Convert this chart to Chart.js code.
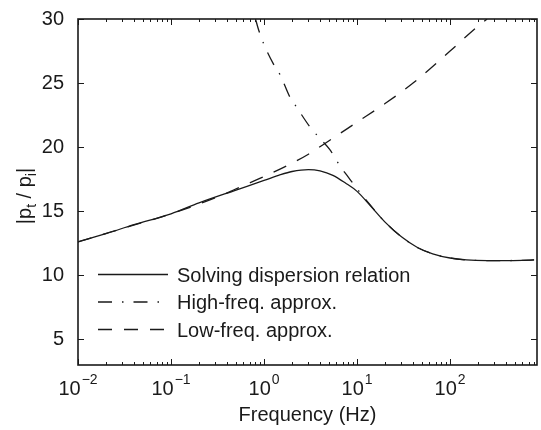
<!DOCTYPE html>
<html>
<head>
<meta charset="utf-8">
<script src="https://cdn.jsdelivr.net/npm/chart.js@4.4.0/dist/chart.umd.min.js"></script>
<style>
  html, body { margin: 0; padding: 0; background: #fff; }
  #wrap { width: 541px; height: 430px; }
</style>
</head>
<body>
<div id="wrap"><canvas id="chart" width="541" height="430"></canvas></div>
<script>
// values (frequency in Hz, ratio |pt/pi|)
const solidFreq = [0.01, 0.02, 0.04, 0.1, 0.2, 0.5, 1, 1.5, 2, 3, 4, 5.5, 7.5, 10, 14, 20, 30, 45, 65, 100, 150, 250, 400, 600, 800];
const solidVals = [12.6, 13.25, 13.95, 14.8, 15.65, 16.65, 17.4, 17.85, 18.1, 18.25, 18.15, 17.8, 17.2, 16.55, 15.4, 14.15, 13.0, 12.15, 11.68, 11.35, 11.2, 11.15, 11.15, 11.17, 11.2];

const highFreq = [0.81, 0.87, 1.0, 1.26, 1.5, 1.9, 2.25, 3.1, 3.85, 5.1, 6.6, 7.8, 10, 14, 20, 30, 45, 65, 100, 150, 250, 400, 600, 800];
const highVals = [30, 29.2, 28.0, 26.5, 25.6, 23.9, 23.1, 21.6, 20.8, 19.8, 18.5, 17.8, 16.75, 15.45, 14.15, 13.0, 12.15, 11.68, 11.35, 11.2, 11.15, 11.15, 11.17, 11.2];

const lowFreq = [0.01, 0.03, 0.1, 0.3, 0.6, 1, 2, 3, 5, 10, 20, 40, 100, 200, 250];
const lowVals = [12.6, 13.65, 14.8, 16.05, 17.0, 17.7, 18.75, 19.45, 20.5, 21.95, 23.4, 25.0, 27.5, 29.45, 30.0];

const seriesLabels = ['Solving dispersion relation', 'High-freq. approx.', 'Low-freq. approx.'];
const yTicks = [5, 10, 15, 20, 25, 30];
const xTickExps = [-2, -1, 0, 1, 2];
const xTitle = 'Frequency (Hz)';

const FONT = '"Liberation Sans", Arial, Helvetica, sans-serif';
const INK = '#1a1a1a';

function toPoints(xs, ys) {
    return xs.map((x, i) => ({ x: x, y: ys[i] }));
}

// box, inward ticks, 10^n labels, axis titles and legend, drawn the MATLAB way
const matlabAxes = {
    id: 'matlabAxes',
    afterDraw(chart) {
        const ctx = chart.ctx;
        const a = chart.chartArea;
        const xs = chart.scales.x;
        const ys = chart.scales.y;
        ctx.save();
        ctx.strokeStyle = INK;
        ctx.fillStyle = INK;

        // ticks
        ctx.lineWidth = 1;
        ctx.beginPath();
        for (let e = -2; e <= 2; e++) {
            for (let m = 1; m <= 9; m++) {
                const v = m * Math.pow(10, e);
                if (v > xs.max) break;
                const px = Math.round(xs.getPixelForValue(v)) + 0.5;
                const len = m === 1 ? 6 : 3;
                ctx.moveTo(px, a.bottom); ctx.lineTo(px, a.bottom - len);
                ctx.moveTo(px, a.top); ctx.lineTo(px, a.top + len);
            }
        }
        yTicks.forEach(v => {
            const py = Math.round(ys.getPixelForValue(v)) + 0.5;
            ctx.moveTo(a.left, py); ctx.lineTo(a.left + 6, py);
            ctx.moveTo(a.right, py); ctx.lineTo(a.right - 6, py);
        });
        ctx.stroke();

        // box
        ctx.lineWidth = 1.6;
        ctx.strokeRect(a.left, a.top, a.right - a.left, a.bottom - a.top);

        // x tick labels 10^n
        ctx.textBaseline = 'alphabetic';
        ctx.textAlign = 'left';
        xTickExps.forEach(e => {
            const px = xs.getPixelForValue(Math.pow(10, e));
            const expStr = e < 0 ? '\u2212' + Math.abs(e) : String(e);
            ctx.font = '20px ' + FONT;
            const w10 = ctx.measureText('10').width;
            ctx.font = '14px ' + FONT;
            const wExp = ctx.measureText(expStr).width;
            const x0 = px - (w10 + wExp + 1) / 2;
            ctx.font = '20px ' + FONT;
            ctx.fillText('10', x0, 395);
            ctx.font = '14px ' + FONT;
            ctx.fillText(expStr, x0 + w10 + 1, 384);
        });

        // x title
        ctx.font = '20px ' + FONT;
        ctx.textAlign = 'center';
        ctx.fillText(xTitle, (a.left + a.right) / 2, 421);

        // y title |p_t / p_i|
        const parts = [['|p', 0, 20], ['t', 5, 14], [' / p', 0, 20], ['i', 5, 14], ['|', 0, 20]];
        let total = 0;
        parts.forEach(p => { ctx.font = p[2] + 'px ' + FONT; total += ctx.measureText(p[0]).width; });
        ctx.save();
        ctx.translate(31, (a.top + a.bottom) / 2 + 4);
        ctx.rotate(-Math.PI / 2);
        ctx.textAlign = 'left';
        let cx = -total / 2;
        parts.forEach(p => {
            ctx.font = p[2] + 'px ' + FONT;
            ctx.fillText(p[0], cx, p[1]);
            cx += ctx.measureText(p[0]).width;
        });
        ctx.restore();

        // legend (no frame)
        ctx.textAlign = 'left';
        ctx.font = '20px ' + FONT;
        chart.data.datasets.forEach((ds, i) => {
            const ly = 274 + i * 27.5;
            ctx.save();
            ctx.lineWidth = ds.borderWidth;
            ctx.setLineDash(ds.borderDash || []);
            ctx.beginPath();
            ctx.moveTo(98, ly + 0.5);
            ctx.lineTo(168, ly + 0.5);
            ctx.stroke();
            ctx.restore();
            ctx.fillText(ds.label, 177, ly + 7.5);
        });
        ctx.restore();
    }
};

new Chart(document.getElementById('chart'), {
    type: 'line',
    data: {
        datasets: [
            {
                label: seriesLabels[0],
                data: toPoints(solidFreq, solidVals),
                borderColor: INK,
                borderWidth: 1.3,
                borderDash: [],
                cubicInterpolationMode: 'monotone',
                pointRadius: 0,
                fill: false
            },
            {
                label: seriesLabels[1],
                data: toPoints(highFreq, highVals),
                borderColor: INK,
                borderWidth: 1.3,
                borderDash: [14, 10, 1.5, 10],
                cubicInterpolationMode: 'monotone',
                pointRadius: 0,
                fill: false
            },
            {
                label: seriesLabels[2],
                data: toPoints(lowFreq, lowVals),
                borderColor: INK,
                borderWidth: 1.3,
                borderDash: [14, 12],
                cubicInterpolationMode: 'monotone',
                pointRadius: 0,
                fill: false
            }
        ]
    },
    options: {
        responsive: false,
        animation: false,
        devicePixelRatio: 1,
        layout: { padding: { top: 19, right: 4, left: 0, bottom: 0 } },
        plugins: {
            legend: { display: false },
            tooltip: { enabled: false }
        },
        scales: {
            x: {
                type: 'logarithmic',
                min: 0.01,
                max: 860,
                grid: { display: false },
                border: { display: false },
                ticks: { display: false },
                afterFit: s => { s.height = 65; }
            },
            y: {
                min: 3,
                max: 30,
                grid: { display: false },
                border: { display: false },
                afterBuildTicks: s => { s.ticks = yTicks.map(v => ({ value: v })); },
                ticks: {
                    color: INK,
                    padding: 6,
                    font: { size: 20, family: FONT }
                },
                afterFit: s => { s.width = 78; }
            }
        }
    },
    plugins: [matlabAxes]
});
</script>
</body>
</html>
